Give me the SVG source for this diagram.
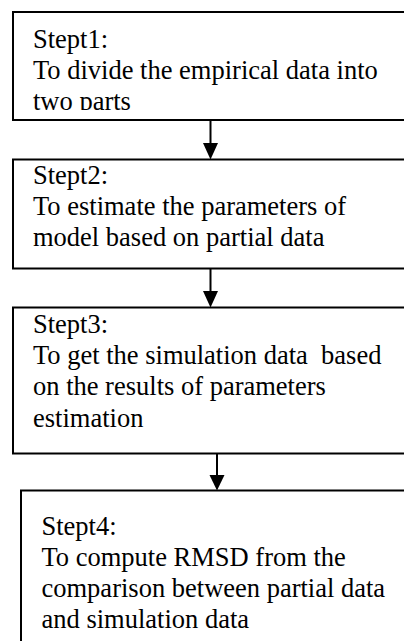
<svg xmlns="http://www.w3.org/2000/svg" width="404" height="641" viewBox="0 0 404 641">
<style>
  .box { fill: #ffffff; stroke: #000000; stroke-width: 2; }
  .t { font-family: "Liberation Serif", "Times New Roman", serif; font-size: 26.5px; fill: #000000; }
  .conn { stroke: #000000; stroke-width: 2; fill: none; }
</style>
<defs>
  <clipPath id="c1"><rect x="14" y="13" width="400" height="97"/></clipPath>
  <clipPath id="c2"><rect x="14" y="160.5" width="400" height="99"/></clipPath>
  <clipPath id="c3"><rect x="14" y="308.5" width="400" height="136"/></clipPath>
  <clipPath id="c4"><rect x="22" y="491.5" width="400" height="160"/></clipPath>
</defs>
<g id="connectors">
  <line class="conn" x1="210.5" y1="120" x2="210.5" y2="143.5"/>
  <path d="M203,143 L218,143 L210.5,159.5 Z" fill="#000000"/>
  <line class="conn" x1="210.5" y1="268.5" x2="210.5" y2="291"/>
  <path d="M203,291 L218,291 L210.5,307.5 Z" fill="#000000"/>
  <line class="conn" x1="217" y1="453.5" x2="217" y2="475"/>
  <path d="M209.5,475 L224.5,475 L217,490.5 Z" fill="#000000"/>
</g>
<g id="step1">
  <rect class="box" x="13" y="12" width="420" height="108"/>
  <g clip-path="url(#c1)">
    <text class="t" x="33" y="47.5">Stept1:</text>
    <text class="t" x="33" y="78.5">To divide the empirical data into</text>
    <text class="t" x="33" y="109.5">two parts</text>
  </g>
</g>
<g id="step2">
  <rect class="box" x="13" y="159.5" width="420" height="109"/>
  <g clip-path="url(#c2)">
    <text class="t" x="33" y="183.5">Stept2:</text>
    <text class="t" x="33" y="214.5">To estimate the parameters of</text>
    <text class="t" x="33" y="246">model based on partial data</text>
  </g>
</g>
<g id="step3">
  <rect class="box" x="13" y="307.5" width="420" height="146"/>
  <g clip-path="url(#c3)">
    <text class="t" x="33" y="333">Stept3:</text>
    <text class="t" x="33" y="364" xml:space="preserve">To get the simulation data  based</text>
    <text class="t" x="33" y="395">on the results of parameters</text>
    <text class="t" x="33" y="426.5">estimation</text>
  </g>
</g>
<g id="step4">
  <rect class="box" x="21" y="490.5" width="420" height="200"/>
  <g clip-path="url(#c4)">
    <text class="t" x="41.5" y="535">Stept4:</text>
    <text class="t" x="41.5" y="566">To compute RMSD from the</text>
    <text class="t" x="41.5" y="597">comparison between partial data</text>
    <text class="t" x="41.5" y="627.5">and simulation data</text>
  </g>
</g>
</svg>
